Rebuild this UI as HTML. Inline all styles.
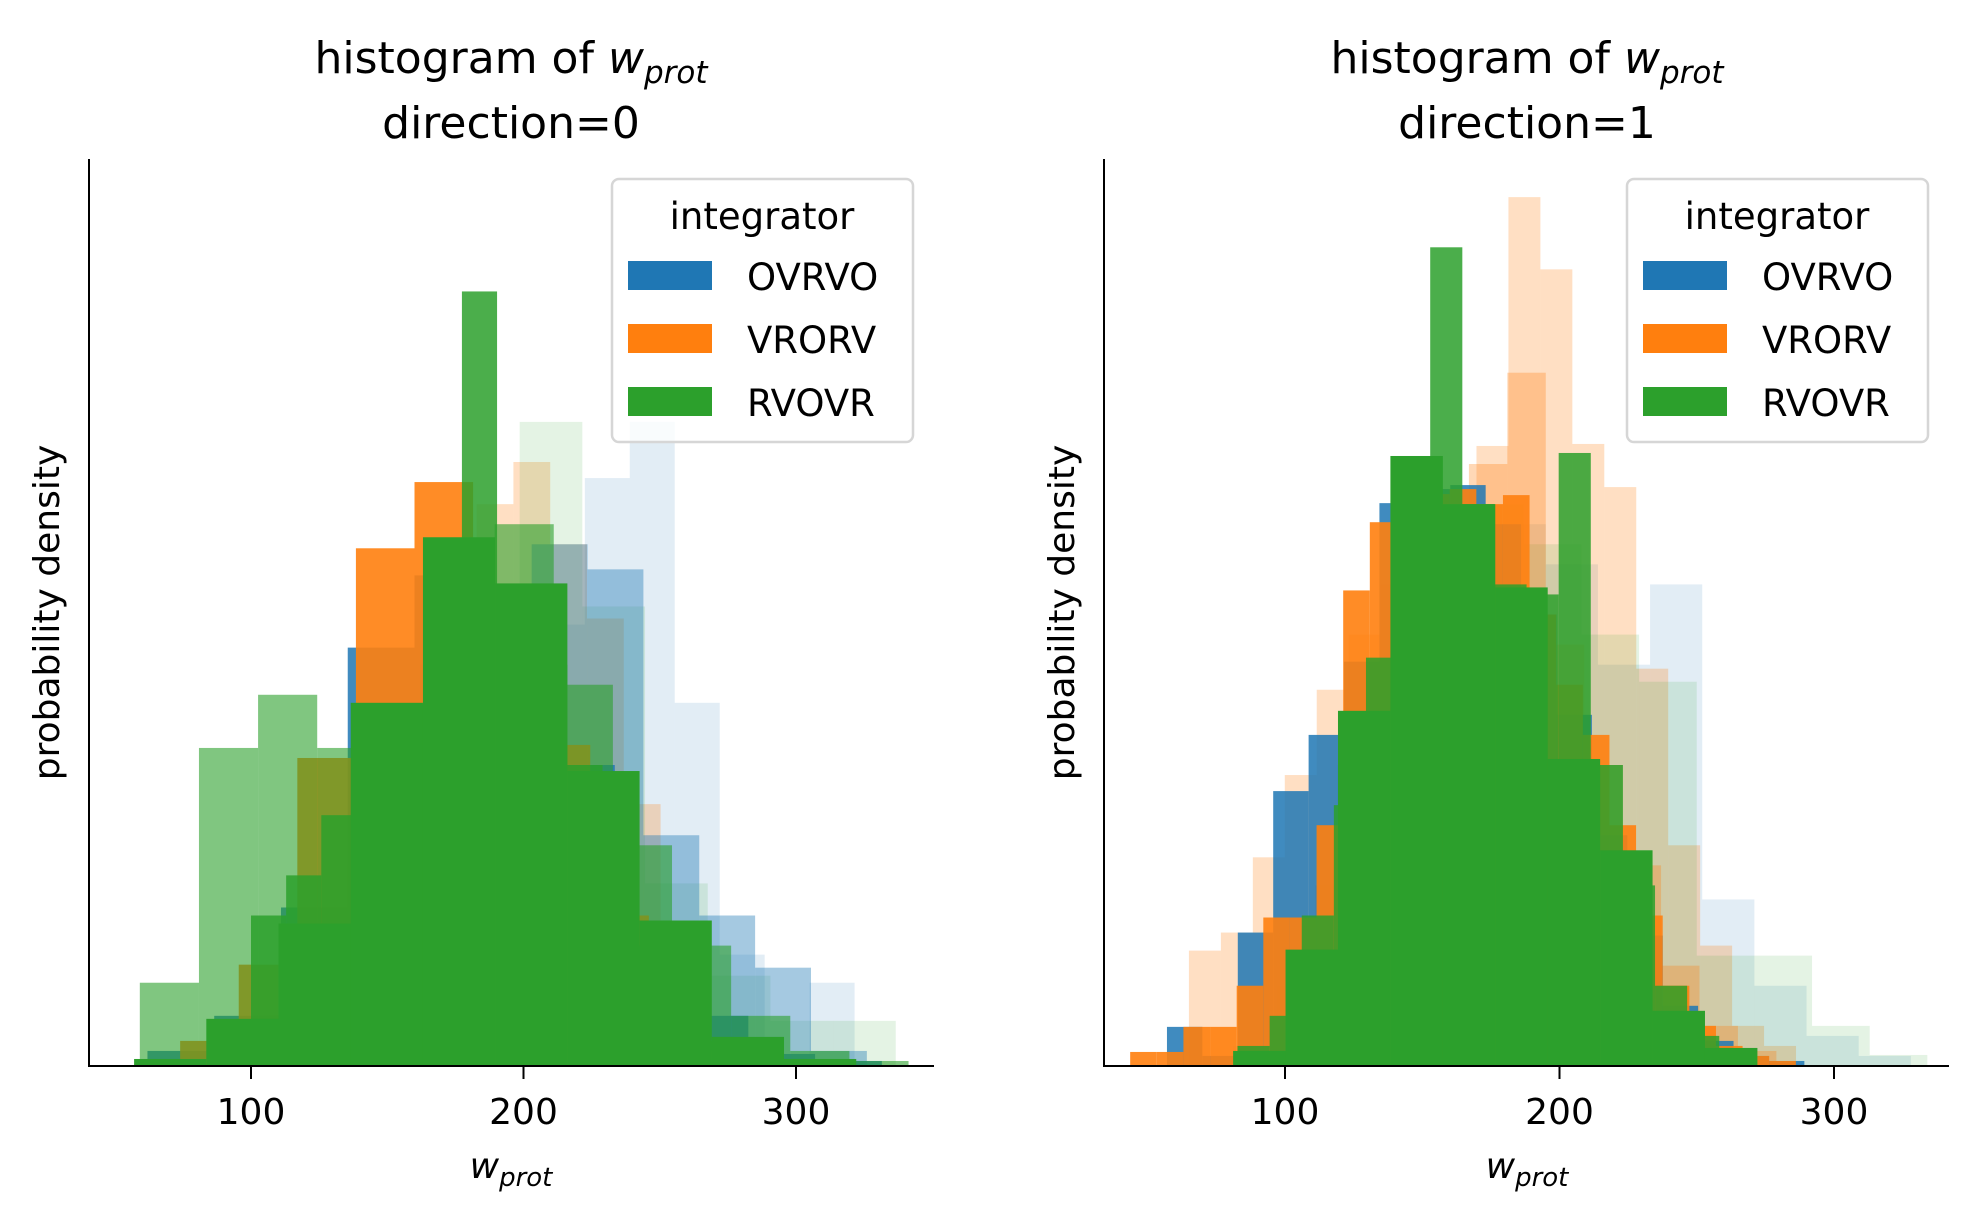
<!DOCTYPE html>
<html><head><meta charset="utf-8">
<style>
html,body{margin:0;padding:0;background:#fff;}
svg{display:block;font-family:"DejaVu Sans","Liberation Sans",sans-serif;}
</style></head>
<body>
<svg id="chart" width="1982" height="1223" viewBox="0 0 1982 1223"></svg>
<script>
// ---- data (x in w_prot units, heights in relative density units) ----
const seriesNames = ["OVRVO","VRORV","RVOVR"];
const seriesColors = ["#1f77b4","#ff7f0e","#2ca02c"];
const xTicks = [100,200,300];

// Left panel (direction=0)
const L_blueLightStart = 90.5, L_blueLightWidth = 16.5;
const L_blueLight = [20,60,130,220,320,420,470,440,586,642,362,111,0,83];
const L_orangeLightStart = 101.8, L_orangeLightWidth = 13.5;
const L_orangeLight = [30,60,110,200,300,420,560,602,520,446,261,100,30,15,8];
const L_greenLightStart = 83.6, L_greenLightWidth = 23;
const L_greenLight = [20,80,200,330,470,642,458,182,90,45,45];
const L_blueMidStart = 80, L_blueMidWidth = 20.5;
const L_blueMid = [10,40,120,250,400,480,520,495,230,150,98,15];
const L_blueSolidStart = 62, L_blueSolidWidth = 24.5;
const L_blueSolid = [15,50,158,417,489,470,300,130,50,12,5];
const L_orangeSolidStart = 74, L_orangeSolidWidth = 21.5;
const L_orangeSolid = [25,101,307,516,582,480,320,150,50,15,6];
const L_greenMidStart = 59.2, L_greenMidWidth = 21.7;
const L_greenMid = [83,317,370,317,340,520,540,380,220,120,50,15,5];
const L_greenNarrowStart = 100, L_greenNarrowWidth = 12.9;
const L_greenNarrow = [150,190,250,300,360,450,772,480,400,300,200,120,60,25];
const L_greenSolidStart = 57.1, L_greenSolidWidth = 26.5;
const L_greenSolid = [7,47,142,362,527,481,294,145,29,7];

// Right panel (direction=1)
const R_blueLightStart = 81, R_blueLightWidth = 19;
const R_blueLight = [20,120,300,480,560,540,500,400,480,166,80,30,10];
const R_orangeLightStart = 65, R_orangeLightWidth = 11.64;
const R_orangeLight = [115,133,208,290,375,430,480,540,560,618,866,794,620,577,396,220,120,40,20];
const R_greenLightStart = 82, R_greenLightWidth = 21;
const R_greenLight = [15,100,300,500,560,520,430,383,110,110,40,11];
const R_orangeTanStart = 83, R_orangeTanWidth = 14;
const R_orangeTan = [20,80,180,330,450,540,600,691,420,300,200,100,40,15];
const R_blueSolidStart = 57, R_blueSolidWidth = 12.9;
const R_blueSolid = [39,10,133,274,330,403,561,575,579,540,450,350,230,130,60,25,10,5];
const R_orangeSolidStart = 43.6, R_orangeSolidWidth = 9.7;
const R_orangeSolid = [14,14,39,39,80,148,148,240,474,542,560,570,575,560,569,450,380,330,240,150,80,40,20,10,5];
const R_greenNarrowStart = 82.7, R_greenNarrowWidth = 11.7;
const R_greenNarrow = [20,50,150,260,407,560,816,560,480,470,611,300,180,80,30,10];
const R_greenSolidStart = 81.1, R_greenSolidWidth = 19.1;
const R_greenSolid = [15,116,354,608,560,477,306,215,55,18];

const NS = "http://www.w3.org/2000/svg";
const svg = document.getElementById("chart");
function mk(tag, attrs, parent){
  const e = document.createElementNS(NS, tag);
  for (const k in attrs) e.setAttribute(k, attrs[k]);
  (parent||svg).appendChild(e);
  return e;
}

function panel(p){
  const g = mk("g", {});
  
  
  const xs = v => p.x100 + (v - 100) * p.pxPerUnit;
  const ys = v => p.base - v * (p.base - p.top) / 904;
  const layers = [
    [p.blueLight, p.blueLightStart, p.blueLightWidth, 0, 0.13, "blue-light"],
    [p.orangeLight, p.orangeLightStart, p.orangeLightWidth, 1, 0.25, "orange-light"],
    [p.greenLight, p.greenLightStart, p.greenLightWidth, 2, 0.13, "green-light"],
    [p.blueMid, p.blueMidStart, p.blueMidWidth, 0, 0.4, "blue-mid"],
    [p.orangeTan, p.orangeTanStart, p.orangeTanWidth, 1, 0.3, "orange-tan"],
    [p.blueSolid, p.blueSolidStart, p.blueSolidWidth, 0, 0.85, "blue-solid"],
    [p.orangeSolid, p.orangeSolidStart, p.orangeSolidWidth, 1, 0.9, "orange-solid"],
    [p.greenMid, p.greenMidStart, p.greenMidWidth, 2, 0.6, "green-mid"],
    [p.greenNarrow, p.greenNarrowStart, p.greenNarrowWidth, 2, 0.85, "green-narrow"],
    [p.greenSolid, p.greenSolidStart, p.greenSolidWidth, 2, 1.0, "green-solid"]
  ];
  layers.forEach(L => {
    const vals = L[0]; if (!vals) return;
    const lg = mk("g", {fill: seriesColors[L[3]], "fill-opacity": L[4]}, g);
    
    
    vals.forEach((v, i) => {
      if (v <= 0) return;
      const x0 = xs(L[1] + i * L[2]), x1 = xs(L[1] + (i + 1) * L[2]);
      const r = mk("rect", {x: x0, y: ys(v), width: x1 - x0, height: ys(0) - ys(v)}, lg);
      
      
    });
  });
  const sl = mk("line", {x1: p.left, y1: p.top, x2: p.left, y2: p.base + 1, stroke: "#000", "stroke-width": 2}, g);
  
  
  const sb = mk("line", {x1: p.left - 1, y1: p.base, x2: p.right, y2: p.base, stroke: "#000", "stroke-width": 2}, g);
  
  
  xTicks.forEach(t => {
    const tx = xs(t);
    const tl = mk("line", {x1: tx, y1: p.base, x2: tx, y2: p.base + 13, stroke: "#000", "stroke-width": 2}, g);
    
    
    const tt = mk("text", {x: tx, y: p.base + 58, "font-size": 36, "text-anchor": "middle", fill: "#000"}, g);
    tt.textContent = t;
    
    
  });
  const xl = mk("text", {x: p.center, y: 1178, "font-size": 36, "text-anchor": "middle", "font-style": "italic"}, g);
  xl.innerHTML = 'w<tspan font-size="26" dy="8">prot</tspan>';
  
  
  const yl = mk("text", {x: 0, y: 0, "font-size": 36, "text-anchor": "middle", transform: `translate(${p.left - 30},${(p.top + p.base) / 2}) rotate(-90)`}, g);
  yl.textContent = "probability density";
  
  
  const t1 = mk("text", {x: p.center, y: 73, "font-size": 44, "text-anchor": "middle"}, g);
  t1.innerHTML = 'histogram of <tspan font-style="italic">w</tspan><tspan font-style="italic" font-size="31" dy="10">prot</tspan>';
  
  
  const t2 = mk("text", {x: p.center, y: 138, "font-size": 44, "text-anchor": "middle"}, g);
  t2.textContent = p.subtitle;
  
  
  const lg = mk("g", {}, g);
  
  
  mk("rect", {x: p.legX, y: 179, width: 301, height: 263, rx: 7, fill: "#fff", "fill-opacity": 0.8, stroke: "#d6d6d6", "stroke-width": 2.5}, lg);
  const lt = mk("text", {x: p.legX + 150, y: 229, "font-size": 37, "text-anchor": "middle"}, lg);
  lt.textContent = "integrator";
  
  
  seriesNames.forEach((n, i) => {
    const y = 261 + i * 63;
    const e = mk("g", {}, lg);
    
    
    mk("rect", {x: p.legX + 16, y: y, width: 84, height: 29, fill: seriesColors[i]}, e);
    const tx = mk("text", {x: p.legX + 135, y: y + 29, "font-size": 37}, e);
    tx.textContent = n;
  });
}

panel(Object.assign({name: "panel-direction-0", subtitle: "direction=0", left: 89, right: 934, top: 159, base: 1066, x100: 251, pxPerUnit: 2.725, center: 511, legX: 612,
  blueLight: L_blueLight, blueLightStart: L_blueLightStart, blueLightWidth: L_blueLightWidth,
  orangeLight: L_orangeLight, orangeLightStart: L_orangeLightStart, orangeLightWidth: L_orangeLightWidth,
  greenLight: L_greenLight, greenLightStart: L_greenLightStart, greenLightWidth: L_greenLightWidth,
  blueMid: L_blueMid, blueMidStart: L_blueMidStart, blueMidWidth: L_blueMidWidth,
  blueSolid: L_blueSolid, blueSolidStart: L_blueSolidStart, blueSolidWidth: L_blueSolidWidth,
  orangeSolid: L_orangeSolid, orangeSolidStart: L_orangeSolidStart, orangeSolidWidth: L_orangeSolidWidth,
  greenMid: L_greenMid, greenMidStart: L_greenMidStart, greenMidWidth: L_greenMidWidth,
  greenNarrow: L_greenNarrow, greenNarrowStart: L_greenNarrowStart, greenNarrowWidth: L_greenNarrowWidth,
  greenSolid: L_greenSolid, greenSolidStart: L_greenSolidStart, greenSolidWidth: L_greenSolidWidth}));

panel(Object.assign({name: "panel-direction-1", subtitle: "direction=1", left: 1104, right: 1949, top: 159, base: 1066, x100: 1285, pxPerUnit: 2.745, center: 1527, legX: 1627,
  blueLight: R_blueLight, blueLightStart: R_blueLightStart, blueLightWidth: R_blueLightWidth,
  orangeLight: R_orangeLight, orangeLightStart: R_orangeLightStart, orangeLightWidth: R_orangeLightWidth,
  greenLight: R_greenLight, greenLightStart: R_greenLightStart, greenLightWidth: R_greenLightWidth,
  orangeTan: R_orangeTan, orangeTanStart: R_orangeTanStart, orangeTanWidth: R_orangeTanWidth,
  blueSolid: R_blueSolid, blueSolidStart: R_blueSolidStart, blueSolidWidth: R_blueSolidWidth,
  orangeSolid: R_orangeSolid, orangeSolidStart: R_orangeSolidStart, orangeSolidWidth: R_orangeSolidWidth,
  greenNarrow: R_greenNarrow, greenNarrowStart: R_greenNarrowStart, greenNarrowWidth: R_greenNarrowWidth,
  greenSolid: R_greenSolid, greenSolidStart: R_greenSolidStart, greenSolidWidth: R_greenSolidWidth}));
</script>
</body></html>
